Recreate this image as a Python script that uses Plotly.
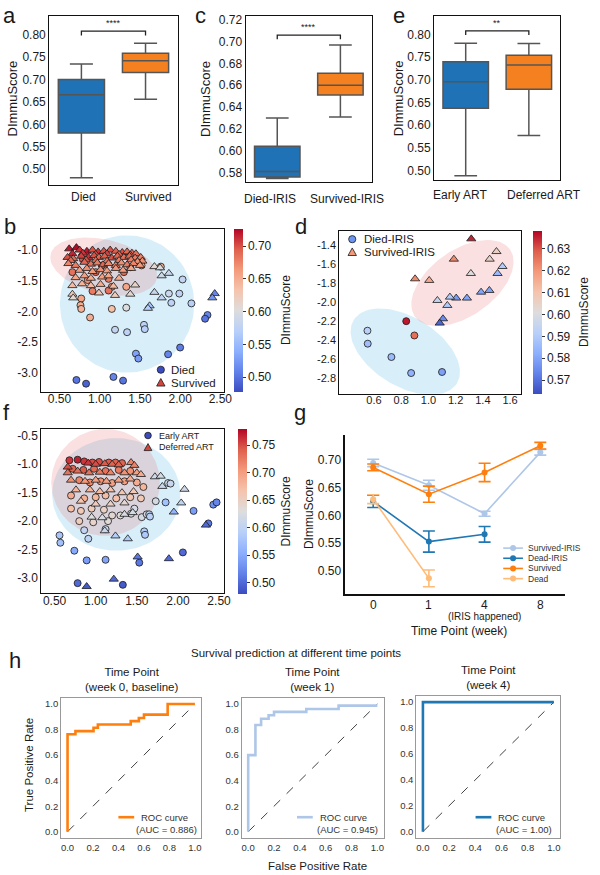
import numpy as np
import plotly.graph_objects as go

W, H = 600, 875
FONT = "Arial, Liberation Sans, sans-serif"

# ---------------- data ----------------
a_cats = ["Died", "Survived"]
a_q1 = [0.581, 0.716]; a_med = [0.666, 0.742]; a_q3 = [0.700, 0.759]
a_lo = [0.481, 0.656]; a_hi = [0.735, 0.781]

c_cats = ["Died-IRIS", "Survived-IRIS"]
c_q1 = [0.576, 0.651]; c_med = [0.581, 0.660]; c_q3 = [0.604, 0.671]
c_lo = [0.5745, 0.631]; c_hi = [0.630, 0.697]

e_cats = ["Early ART", "Deferred ART"]
e_q1 = [0.637, 0.679]; e_med = [0.696, 0.733]; e_q3 = [0.740, 0.754]
e_lo = [0.488, 0.577]; e_hi = [0.781, 0.780]

sig_h = [0.808, 0.706, 0.808]
sig_text = ["****", "****", "**"]

# panel b (Died = circles, Survived = triangles)
b_tri_x = [0.62,0.71,0.75,0.84,0.91,0.98,1.05,1.13,1.20,1.28,1.34,1.40,1.45,
           0.66,0.79,0.95,1.09,1.24,1.38,
           0.60,0.67,0.77,0.86,0.93,0.99,1.06,1.15,1.22,1.30,1.37,1.44,1.51,1.53,
           0.64,0.83,0.95,1.09,1.24,1.39,1.47,
           0.61,0.70,0.81,0.89,0.97,1.04,1.11,1.20,1.27,1.34,1.42,1.50,
           0.75,0.84,0.91,1.01,1.09,1.20,1.29,1.39,
           0.70,0.81,0.89,1.03,1.11,1.24,
           0.66,0.78,0.89,1.01,1.17,1.44,
           0.66,0.67,0.99,1.19,1.38,
           1.68,1.75,1.77,1.86,1.68,1.77,1.62,1.60,2.43,2.40]
b_tri_y = [-0.98,-0.96,-1.00,-1.02,-1.00,-1.03,-1.02,-1.00,-1.02,-1.04,-1.03,-1.05,-1.06,
           -1.06,-1.05,-1.07,-1.06,-1.07,-1.08,
           -1.12,-1.14,-1.10,-1.12,-1.09,-1.12,-1.10,-1.13,-1.10,-1.12,-1.10,-1.13,-1.12,-1.18,
           -1.17,-1.16,-1.17,-1.18,-1.17,-1.16,-1.19,
           -1.22,-1.25,-1.20,-1.23,-1.21,-1.24,-1.22,-1.25,-1.21,-1.24,-1.22,-1.25,
           -1.33,-1.30,-1.35,-1.32,-1.34,-1.30,-1.33,-1.30,
           -1.45,-1.42,-1.46,-1.44,-1.42,-1.46,
           -1.58,-1.55,-1.58,-1.56,-1.59,-1.57,
           -1.72,-1.78,-1.70,-1.74,-1.72,
           -1.27,-1.29,-1.42,-1.38,-1.69,-1.78,-1.91,-1.95,-1.71,-1.78]
b_tri_v = [0.720,0.725,0.710,0.720,0.700,0.710,0.700,0.700,0.695,0.700,0.690,0.690,0.685,
           0.715,0.710,0.700,0.705,0.695,0.690,
           0.700,0.690,0.705,0.710,0.700,0.690,0.695,0.700,0.690,0.685,0.690,0.680,0.675,0.670,
           0.690,0.700,0.690,0.685,0.680,0.680,0.670,
           0.675,0.680,0.690,0.685,0.680,0.690,0.675,0.680,0.670,0.680,0.675,0.665,
           0.660,0.670,0.665,0.670,0.660,0.665,0.660,0.655,
           0.655,0.660,0.650,0.660,0.655,0.650,
           0.640,0.645,0.640,0.650,0.640,0.615,
           0.625,0.610,0.630,0.625,0.610,
           0.610,0.600,0.590,0.585,0.585,0.580,0.560,0.570,0.510,0.520]
b_cir_x = [0.79,0.95,1.11,1.15,0.91,1.11,1.33,1.30,1.38,1.52,1.76,0.77,0.76,0.77,0.88,
           1.15,1.33,0.66,0.85,1.03,
           2.03,1.86,1.99,1.89,2.14,2.34,2.31,1.19,1.34,1.55,1.56,1.45,1.48,1.85,2.00,
           0.71,0.83,1.17,1.29]
b_cir_y = [-1.15,-1.36,-1.47,-1.60,-1.67,-1.66,-1.60,-1.36,-1.28,-1.25,-1.27,-1.79,-1.90,-1.96,-2.10,
           -1.96,-1.94,-1.36,-1.49,-1.25,
           -1.48,-1.71,-1.71,-1.86,-1.87,-2.06,-2.12,-2.30,-2.34,-2.22,-2.29,-2.69,-2.77,-2.70,-2.59,
           -3.12,-3.18,-3.07,-3.13]
b_cir_v = [0.700,0.690,0.680,0.670,0.680,0.685,0.655,0.690,0.685,0.660,0.655,0.655,0.650,0.645,0.650,
           0.635,0.600,0.685,0.670,0.700,
           0.580,0.585,0.575,0.575,0.570,0.510,0.500,0.580,0.575,0.575,0.570,0.530,0.525,0.510,0.505,
           0.500,0.490,0.510,0.500]

# panel d
d_tri_x = [1.315,1.50,1.45,1.544,1.187,1.312,1.508,0.902,1.006,1.448,1.387,1.283,1.204,1.158,1.066,1.139,1.107,1.083]
d_tri_y = [-1.337,-1.47,-1.55,-1.627,-1.55,-1.70,-1.70,-1.756,-1.773,-1.878,-1.896,-1.958,-1.958,-1.948,-1.983,-2.035,-2.175,-2.22]
d_tri_v = [0.635,0.606,0.605,0.590,0.622,0.601,0.585,0.622,0.616,0.580,0.580,0.580,0.578,0.590,0.595,0.590,0.575,0.568]
d_cir_x = [0.837,0.897,0.552,0.554,0.728,0.873,1.100]
d_cir_y = [-2.20,-2.35,-2.30,-2.436,-2.576,-2.744,-2.733]
d_cir_v = [0.636,0.626,0.592,0.586,0.585,0.583,0.579]

# panel f (Early ART = circles, Deferred ART = triangles)
f_cir_x = [0.68,0.78,0.86,0.96,1.04,1.16,1.24,1.32,
           0.72,0.85,0.98,1.12,1.28,1.42,
           0.80,0.93,1.06,1.20,1.35,1.50,1.58,
           0.70,0.86,1.00,1.12,1.25,1.42,1.55,
           0.70,0.82,0.95,1.10,1.20,1.30,1.43,1.56,1.62,
           0.80,0.97,1.15,
           0.56,0.57,0.74,0.89,1.12,0.78,1.33,1.53,2.06,1.59,1.60,0.86,0.91,1.12,1.65,1.66,
           1.73,1.85,1.88,1.91,2.19,2.37,2.43,2.47,1.47]
f_cir_y = [-0.93,-0.92,-0.95,-0.97,-0.96,-0.97,-0.97,-0.98,
           -1.08,-1.10,-1.08,-1.12,-1.10,-1.12,
           -1.28,-1.32,-1.30,-1.33,-1.30,-1.32,-1.40,
           -1.55,-1.60,-1.58,-1.55,-1.60,-1.58,-1.60,
           -1.78,-1.82,-1.78,-1.80,-1.90,-1.90,-1.87,-1.93,-1.88,
           -2.00,-2.02,-2.00,
           -2.25,-2.38,-2.52,-2.69,-2.68,-3.09,-3.12,-2.73,-2.55,-2.18,-2.24,-2.16,-2.31,-2.14,-1.88,-1.92,
           -1.65,-1.67,-1.33,-1.34,-1.82,-2.04,-1.71,-1.67,-1.78]
f_cir_v = [0.760,0.770,0.760,0.750,0.750,0.745,0.740,0.740,
           0.740,0.745,0.735,0.730,0.725,0.710,
           0.720,0.715,0.710,0.700,0.700,0.690,0.680,
           0.690,0.685,0.680,0.675,0.670,0.665,0.660,
           0.670,0.660,0.655,0.650,0.640,0.635,0.625,0.620,0.625,
           0.655,0.645,0.635,
           0.580,0.575,0.550,0.540,0.545,0.500,0.490,0.510,0.500,0.590,0.585,0.605,0.600,0.610,0.600,0.595,
           0.620,0.575,0.615,0.610,0.540,0.510,0.530,0.520,0.620]
f_tri_x = [0.66,0.91,1.00,1.11,1.20,1.28,1.43,1.47,
           0.66,0.78,0.92,1.05,1.18,1.35,1.50,1.55,
           0.70,0.87,1.00,1.13,1.28,1.42,
           0.76,0.93,1.05,1.18,1.32,1.46,
           0.82,1.00,1.18,1.35,0.95,
           0.89,1.22,1.51,1.89,2.34,1.95,2.04,2.08,1.81,1.72,1.79,1.11,1.24,1.39,1.08,1.45,1.35]
f_tri_y = [-1.05,-0.98,-1.00,-0.99,-1.00,-1.01,-0.97,-1.02,
           -1.15,-1.12,-1.15,-1.14,-1.15,-1.15,-1.15,-1.18,
           -1.28,-1.30,-1.28,-1.30,-1.28,-1.26,
           -1.45,-1.45,-1.48,-1.45,-1.50,-1.48,
           -1.65,-1.70,-1.70,-1.68,-1.93,
           -3.15,-3.02,-2.63,-2.66,-2.07,-1.84,-1.68,-1.44,-1.39,-1.22,-1.21,-2.17,-2.26,-2.31,-1.94,-1.85,-1.88]
f_tri_v = [0.750,0.760,0.750,0.745,0.740,0.740,0.720,0.720,
           0.730,0.735,0.730,0.725,0.720,0.710,0.700,0.690,
           0.710,0.705,0.700,0.700,0.695,0.690,
           0.680,0.680,0.675,0.670,0.665,0.660,
           0.665,0.655,0.650,0.640,0.630,
           0.490,0.500,0.510,0.500,0.500,0.560,0.600,0.615,0.610,0.615,0.620,0.610,0.590,0.585,0.625,0.620,0.625]

# panel g
weeks = ["0", "1", "4", "8"]
g_series = ["Survived-IRIS", "Dead-IRIS", "Survived", "Dead"]
g_mean = [[0.694, 0.654, 0.603, 0.713],
          [0.625, 0.553, 0.566],
          [0.686, 0.638, 0.677, 0.725],
          [0.629, 0.487]]
g_err = [[0.0066, 0.009, 0.0045, 0.005],
         [0.011, 0.019, 0.014],
         [0.006, 0.0145, 0.0165, 0.006],
         [0.008, 0.015]]

# panel h (ROC)
roc_titles = ["Time Point<br>(week 0, baseline)", "Time Point<br>(week 1)", "Time Point<br>(week 4)"]
roc_auc = ["0.886", "0.945", "1.00"]
roc1_fpr = [0, 0, 0.062, 0.062, 0.204, 0.204, 0.238, 0.238, 0.496, 0.496, 0.56, 0.56, 0.60, 0.60, 0.786, 0.786, 1.0]
roc1_tpr = [0, 0.763, 0.763, 0.788, 0.788, 0.814, 0.814, 0.84, 0.84, 0.866, 0.866, 0.89, 0.89, 0.917, 0.917, 1.0, 1.0]
roc2_fpr = [0, 0, 0.056, 0.056, 0.10, 0.10, 0.158, 0.158, 0.20, 0.20, 0.45, 0.45, 0.70, 0.70, 1.0]
roc2_tpr = [0, 0.60, 0.60, 0.835, 0.835, 0.884, 0.884, 0.912, 0.912, 0.938, 0.938, 0.961, 0.961, 0.987, 0.987]
roc3_fpr = [0, 0, 1.0]
roc3_tpr = [0, 1.0, 1.0]

# tick labels
box_ticks = [0.50, 0.55, 0.60, 0.65, 0.70, 0.75, 0.80]
c_ticks = [0.58, 0.60, 0.62, 0.64, 0.66, 0.68, 0.70, 0.72]
bf_xticks = [0.5, 1.0, 1.5, 2.0, 2.5]
b_yticks = [-1.0, -1.5, -2.0, -2.5, -3.0]
f_yticks = [-0.5, -1.0, -1.5, -2.0, -2.5, -3.0]
d_xticks = [0.6, 0.8, 1.0, 1.2, 1.4, 1.6]
d_yticks = [-1.4, -1.6, -1.8, -2.0, -2.2, -2.4, -2.6, -2.8]
b_cbticks = [0.50, 0.55, 0.60, 0.65, 0.70]
d_cbticks = [0.57, 0.58, 0.59, 0.60, 0.61, 0.62, 0.63]
f_cbticks = [0.50, 0.55, 0.60, 0.65, 0.70, 0.75]
g_yticks = [0.50, 0.55, 0.60, 0.65, 0.70]
roc_ticks = [0.0, 0.2, 0.4, 0.6, 0.8, 1.0]


def fmt(vals, nd):
    return [f"{v:.{nd}f}" for v in vals]


# ---------------- layout helpers ----------------
AX = {  # left, right, top, bottom (px)
    "a": (50, 180, 13, 183), "c": (249, 377, 13, 180), "e": (440, 568, 13, 178),
    "b": (42, 227, 227, 390), "d": (344, 528, 229, 392), "f": (42, 227, 427, 592),
    "g": (350, 573, 433, 593),
    "h1": (62, 204, 697, 838), "h2": (245, 389, 697, 838), "h3": (422, 568, 695, 838),
}
KEYS = list(AX.keys())
IDX = {k: i + 1 for i, k in enumerate(KEYS)}


def ref(k):
    i = IDX[k]
    return ("x" if i == 1 else f"x{i}"), ("y" if i == 1 else f"y{i}")


def px2x(p):
    return p / W


def px2y(p):
    return 1 - p / H


COOLWARM = [[0.0, "rgb(59,76,192)"], [0.125, "rgb(98,130,234)"], [0.25, "rgb(141,176,254)"],
            [0.375, "rgb(184,208,249)"], [0.5, "rgb(221,221,221)"], [0.625, "rgb(245,196,173)"],
            [0.75, "rgb(244,154,123)"], [0.875, "rgb(222,96,77)"], [1.0, "rgb(180,4,38)"]]

fig = go.Figure()
layout = dict(width=W, height=H, margin=dict(l=0, r=0, t=0, b=0),
              paper_bgcolor="white", plot_bgcolor="white",
              font=dict(family=FONT, color="#1a1a1a"), showlegend=False)

for k in KEYS:
    i = IDX[k]
    l, r, t, b = AX[k]
    xa = "xaxis" if i == 1 else f"xaxis{i}"
    ya = "yaxis" if i == 1 else f"yaxis{i}"
    layout[xa] = dict(domain=[px2x(l), px2x(r)], anchor=ref(k)[1], showgrid=False, zeroline=False,
                      showline=True, mirror=True, linecolor="#111", linewidth=1.3, ticks="", ticklen=0,
                      tickangle=0, tickfont=dict(size=12))
    layout[ya] = dict(domain=[px2y(b), px2y(t)], anchor=ref(k)[0], showgrid=False, zeroline=False,
                      showline=True, mirror=True, linecolor="#111", linewidth=1.3, ticks="", ticklen=0,
                      tickfont=dict(size=12))

annotations = []
shapes = []


def ann(text, x, y, size=12, angle=0, xanchor="center", yanchor="middle", color="#1a1a1a"):
    annotations.append(dict(text=text, x=x, y=y, xref="paper", yref="paper", showarrow=False,
                            font=dict(size=size, family=FONT, color=color), textangle=angle,
                            xanchor=xanchor, yanchor=yanchor))


def leg_marker(symbol, xpx, ypx, color, r=3.6):
    base = dict(xref="paper", yref="paper", xsizemode="pixel", ysizemode="pixel",
                xanchor=px2x(xpx), yanchor=px2y(ypx), fillcolor=color,
                line=dict(color="#1a1a1a", width=0.8), layer="above")
    if symbol == "circle":
        shapes.append(dict(base, type="circle", x0=-r, x1=r, y0=-r, y1=r))
    else:
        s = r + 0.6
        shapes.append(dict(base, type="path", path=f"M {-s},{-s * 0.8} L {s},{-s * 0.8} L 0,{s} Z"))


# ---------------- box panels a, c, e ----------------
BLUE_BOX = "#1f72b6"
ORANGE_BOX = "#f5801f"
box_sets = [("a", a_cats, a_q1, a_med, a_q3, a_lo, a_hi, [0.464, 0.842], box_ticks, (85, 151), 195),
            ("c", c_cats, c_q1, c_med, c_q3, c_lo, c_hi, [0.571, 0.7235], c_ticks, (274, 352), 197),
            ("e", e_cats, e_q1, e_med, e_q3, e_lo, e_hi, [0.478, 0.841], box_ticks, (466, 551), 193)]
for n, (k, cats, q1, med, q3, lo, hi, yr, yt, lab_x, lab_y) in enumerate(box_sets):
    xr, yrf = ref(k)
    for j in range(2):
        fig.add_trace(go.Box(x=[j], q1=[q1[j]], median=[med[j]], q3=[q3[j]],
                             lowerfence=[lo[j]], upperfence=[hi[j]],
                             fillcolor=[BLUE_BOX, ORANGE_BOX][j],
                             line=dict(color="#555555", width=1.5), whiskerwidth=0.5,
                             width=0.72, boxpoints=False, showlegend=False,
                             xaxis=xr, yaxis=yrf, hoverinfo="skip"))
        ann(cats[j], px2x(lab_x[j]), px2y(lab_y), 12)
    i = IDX[k]
    xa = "xaxis" if i == 1 else f"xaxis{i}"
    ya = "yaxis" if i == 1 else f"yaxis{i}"
    layout[xa].update(range=[-0.5, 1.5], tickvals=[0, 1], showticklabels=False)
    layout[ya].update(range=yr, tickvals=yt, ticktext=fmt(yt, 2))
    h = sig_h[n]
    d = (yr[1] - yr[0]) * 0.025
    fig.add_trace(go.Scatter(x=[0, 0, 1, 1], y=[h - d, h, h, h - d], mode="lines",
                             line=dict(color="#222", width=1.3), showlegend=False,
                             xaxis=xr, yaxis=yrf, hoverinfo="skip"))
    annotations.append(dict(text=sig_text[n], x=0.5, y=h + d * 0.3, xref=xr, yref=yrf,
                            showarrow=False, font=dict(size=9, family=FONT), yanchor="bottom"))

ann("DImmuScore", px2x(13), px2y(96), 13, -90)
ann("DImmuScore", px2x(208), px2y(96), 13, -90)
ann("DImmuScore", px2x(404), px2y(96), 13, -90)


# ---------------- scatter panels b, d, f ----------------
def ellipse(c, u, v, n=120):
    t = np.linspace(0, 2 * np.pi, n)
    return c[0] + u[0] * np.cos(t) + v[0] * np.sin(t), c[1] + u[1] * np.cos(t) + v[1] * np.sin(t)


BLUE_FILL = "rgba(100,190,235,0.25)"
RED_FILL = "rgba(230,100,100,0.2)"

scatter_sets = [
    ("b", "coloraxis", [0.275, 2.545], [-3.31, -0.66], bf_xticks, 2, b_yticks, 1,
     ((1.34, -1.88), (0.835, 0.0), (0.0, 1.12)), ((1.05, -1.27), (0.66, -0.20), (-0.074, -0.43)),
     (b_cir_x, b_cir_y, b_cir_v), (b_tri_x, b_tri_y, b_tri_v)),
    ("d", "coloraxis2", [0.346, 1.68], [-2.96, -1.257], d_xticks, 1, d_yticks, 1,
     ((0.83, -2.52), (0.38, -0.33), (0.13, 0.31)), ((1.25, -1.80), (0.35, 0.35), (0.136, -0.285)),
     (d_cir_x, d_cir_y, d_cir_v), (d_tri_x, d_tri_y, d_tri_v)),
    ("f", "coloraxis3", [0.34, 2.56], [-3.263, -0.372], bf_xticks, 2, f_yticks, 1,
     ((1.25, -1.53), (0.78, 0.0), (0.0, 0.99)), ((1.12, -1.32), (0.66, 0.0), (0.0, 0.94)),
     (f_cir_x, f_cir_y, f_cir_v), (f_tri_x, f_tri_y, f_tri_v)),
]
for (k, cax, xrng, yrng, xt, xnd, yt, ynd, eb, er, cir, tri) in scatter_sets:
    xr, yrf = ref(k)
    ex, ey = ellipse(*eb)
    fig.add_trace(go.Scatter(x=ex, y=ey, mode="lines", fill="toself", fillcolor=BLUE_FILL,
                             line=dict(width=0), showlegend=False, xaxis=xr, yaxis=yrf, hoverinfo="skip"))
    ex, ey = ellipse(*er)
    fig.add_trace(go.Scatter(x=ex, y=ey, mode="lines", fill="toself", fillcolor=RED_FILL,
                             line=dict(width=0), showlegend=False, xaxis=xr, yaxis=yrf, hoverinfo="skip"))
    fig.add_trace(go.Scatter(x=cir[0], y=cir[1], mode="markers", showlegend=False,
                             marker=dict(symbol="circle", size=7, color=cir[2], coloraxis=cax,
                                         line=dict(color="#1a1a1a", width=0.8)),
                             xaxis=xr, yaxis=yrf))
    fig.add_trace(go.Scatter(x=tri[0], y=tri[1], mode="markers", showlegend=False,
                             marker=dict(symbol="triangle-up", size=8, color=tri[2], coloraxis=cax,
                                         line=dict(color="#1a1a1a", width=0.8)),
                             xaxis=xr, yaxis=yrf))
    i = IDX[k]
    layout[f"xaxis{i}"].update(range=xrng, tickvals=xt, ticktext=fmt(xt, xnd), ticklabelstandoff=-4)
    layout[f"yaxis{i}"].update(range=yrng, tickvals=yt, ticktext=fmt(yt, ynd))

layout["xaxis5"].update(tickfont=dict(size=11))
layout["yaxis5"].update(tickfont=dict(size=11))


def cbar(xpx, top, bottom, ticks, lo, hi):
    return dict(colorscale=COOLWARM, cmin=lo, cmax=hi,
                colorbar=dict(x=px2x(xpx), xanchor="left", xpad=0, ypad=0,
                              y=px2y(top), yanchor="top", len=bottom - top, lenmode="pixels",
                              thickness=9, thicknessmode="pixels", outlinewidth=0,
                              ticks="outside", ticklen=3, tickcolor="#333",
                              tickvals=ticks, ticktext=fmt(ticks, 2),
                              tickfont=dict(size=12, family=FONT)))


layout["coloraxis"] = cbar(237, 227, 390, b_cbticks, 0.477, 0.726)
layout["coloraxis2"] = cbar(540, 229, 392, d_cbticks, 0.5636, 0.638)
layout["coloraxis3"] = cbar(241, 427, 592, f_cbticks, 0.48, 0.78)
ann("DImmuScore", px2x(290), px2y(308), 12, -90)
ann("DImmuScore", px2x(592), px2y(310), 12, -90)
ann("DImmuScore", px2x(290), px2y(510), 12, -90)

# manual scatter legends
leg_marker("circle", 163, 368, "rgb(59,76,192)")
ann("Died", px2x(171), px2y(368), 11.5, xanchor="left")
leg_marker("triangle", 163, 381, "rgb(210,70,60)")
ann("Survived", px2x(171), px2y(381), 11.5, xanchor="left")

leg_marker("circle", 357, 237, "rgb(110,150,240)")
ann("Died-IRIS", px2x(367), px2y(237), 11.5, xanchor="left")
leg_marker("triangle", 357, 250, "rgb(244,154,123)")
ann("Survived-IRIS", px2x(367), px2y(250), 11.5, xanchor="left")

leg_marker("circle", 150, 434, "rgb(59,76,192)", r=3.3)
ann("Early ART", px2x(159), px2y(434), 9, xanchor="left")
leg_marker("triangle", 150, 446, "rgb(210,70,60)", r=3.3)
ann("Deferred ART", px2x(159), px2y(446), 9, xanchor="left")

# ---------------- panel g ----------------
G_COLORS = ["#aec7e8", "#1f77b4", "#ff7f0e", "#ffbb78"]
xr, yrf = ref("g")
for s, name in enumerate(g_series):
    n = len(g_mean[s])
    fig.add_trace(go.Scatter(x=weeks[:n], y=g_mean[s], mode="lines+markers", name=name,
                             showlegend=False,
                             line=dict(color=G_COLORS[s], width=1.6),
                             marker=dict(color=G_COLORS[s], size=6),
                             error_y=dict(type="data", array=g_err[s], color=G_COLORS[s],
                                          thickness=1.6, width=6),
                             xaxis=xr, yaxis=yrf))
    ly = 547 + s * 10.2
    shapes.append(dict(type="line", xref="paper", yref="paper", x0=px2x(510), x1=px2x(530),
                       y0=px2y(ly), y1=px2y(ly), line=dict(color=G_COLORS[s], width=1.6)))
    shapes.append(dict(type="circle", xref="paper", yref="paper", xsizemode="pixel", ysizemode="pixel",
                       xanchor=px2x(520), yanchor=px2y(ly), x0=-3, x1=3, y0=-3, y1=3,
                       fillcolor=G_COLORS[s], line=dict(width=0)))
    ann(name, px2x(533), px2y(ly), 8.5, xanchor="left", color="#333")
layout["xaxis7"].update(type="category", range=[-0.5, 3.45], mirror=False, linewidth=1.5,
                        showticklabels=False, categoryorder="array", categoryarray=weeks)
layout["yaxis7"].update(range=[0.459, 0.745], tickvals=g_yticks, ticktext=fmt(g_yticks, 2),
                        mirror=False, linewidth=1.5)
for wi, wk in enumerate(weeks):
    annotations.append(dict(text=wk, x=wi, y=px2y(595), xref=xr, yref="paper", yanchor="top",
                            showarrow=False, font=dict(size=12, family=FONT)))
annotations.append(dict(text="(IRIS happened)", x=2, y=px2y(608), xref=xr, yref="paper", yanchor="top",
                        showarrow=False, font=dict(size=10, family=FONT)))
ann("Time Point (week)", px2x(465), px2y(630), 12)
ann("DImmuScore", px2x(313), px2y(513), 12, -90)

# ---------------- panel h ----------------
ROC_COLORS = ["#ff7f0e", "#aec7e8", "#1f77b4"]
roc_data = [(roc1_fpr, roc1_tpr), (roc2_fpr, roc2_tpr), (roc3_fpr, roc3_tpr)]
roc_leg = [(120, 202), (301, 385), (482, 561)]  # legend line start, text right edge (px)
for j, k in enumerate(["h1", "h2", "h3"]):
    xr, yrf = ref(k)
    fig.add_trace(go.Scatter(x=[0, 1], y=[0, 1], mode="lines", showlegend=False,
                             line=dict(color="#111", width=0.8, dash="dash"),
                             xaxis=xr, yaxis=yrf, hoverinfo="skip"))
    fig.add_trace(go.Scatter(x=roc_data[j][0], y=roc_data[j][1], mode="lines", showlegend=False,
                             name=f"ROC curve (AUC = {roc_auc[j]})",
                             line=dict(color=ROC_COLORS[j], width=2.6),
                             xaxis=xr, yaxis=yrf))
    i = IDX[k]
    layout[f"xaxis{i}"].update(range=[-0.05, 1.05], tickvals=roc_ticks, ticktext=fmt(roc_ticks, 1),
                               linecolor="#999", linewidth=1.2, tickfont=dict(size=9.5, color="#333"))
    layout[f"yaxis{i}"].update(range=[-0.05, 1.05], tickvals=roc_ticks, ticktext=fmt(roc_ticks, 1),
                               linecolor="#999", linewidth=1.2, tickfont=dict(size=9.5, color="#333"))
    l, r, t, b = AX[k]
    lx, rx = roc_leg[j]
    shapes.append(dict(type="line", xref="paper", yref="paper", x0=px2x(lx), x1=px2x(lx + 16),
                       y0=px2y(b - 21), y1=px2y(b - 21), line=dict(color=ROC_COLORS[j], width=2.6)))
    ann("ROC curve", px2x(lx + 21), px2y(b - 21), 9.5, xanchor="left", color="#333")
    ann(f"(AUC = {roc_auc[j]})", px2x(rx), px2y(b - 9), 9.5, xanchor="right", color="#333")
    ann(roc_titles[j], px2x((l + r) / 2), px2y(t - 3), 11.5, yanchor="bottom")

ann("Survival prediction at different time points", px2x(300), px2y(652), 11.5)
ann("True Positive Rate", px2x(30), px2y(765), 11.5, -90)
ann("False Positive Rate", px2x(322), px2y(866), 11.5)

# panel letters
for letter, (lx, ly) in {"a": (10, 13), "c": (203, 13), "e": (404, 13), "b": (10, 224),
                         "d": (305, 224), "f": (7, 411), "g": (304, 411), "h": (15, 660)}.items():
    ann(letter, px2x(lx), px2y(ly), 22)

layout["annotations"] = annotations
layout["shapes"] = shapes
fig.update_layout(**layout)
fig.write_html("out.html")
